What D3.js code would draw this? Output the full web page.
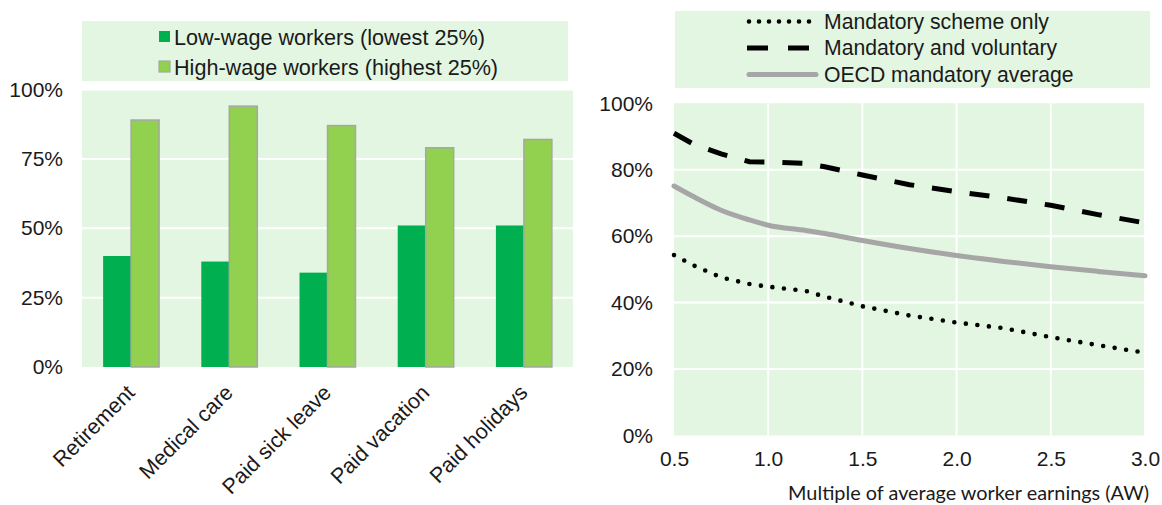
<!DOCTYPE html>
<html>
<head>
<meta charset="utf-8">
<script src="https://cdn.jsdelivr.net/npm/d3@7"></script>
<style>
  html, body { margin: 0; padding: 0; background: #ffffff; }
  svg { display: block; font-family: "Liberation Sans", Arial, sans-serif; }
</style>
</head>
<body>
<svg id="chart" width="1162" height="505"></svg>
<script>
// Left panel: share of workers with access to each benefit
const categories = ["Retirement", "Medical care", "Paid sick leave", "Paid vacation", "Paid holidays"];
const lowWage = [40, 38, 34, 51, 51];
const highWage = [89, 94, 87, 79, 82];
const barSeries = ["Low-wage workers (lowest 25%)", "High-wage workers (highest 25%)"];
const barTicks = [0, 25, 50, 75, 100];

// Right panel: replacement rate by multiple of average worker earnings
const earnings = [0.5, 0.6, 0.75, 0.9, 1.0, 1.2, 1.3, 1.5, 1.75, 2.0, 2.25, 2.5, 2.75, 3.0];
const mandatoryOnly = [54.3, 51.3, 47.6, 45.6, 44.8, 43.5, 41.8, 38.9, 36.1, 34.0, 32.3, 29.6, 27.2, 24.9];
const mandatoryVoluntary = [91.0, 87.8, 84.8, 82.4, 82.3, 81.9, 80.9, 78.4, 75.5, 73.4, 71.5, 69.3, 66.5, 64.0];
const oecdAverage = [75.1, 72.0, 67.8, 64.9, 63.3, 61.7, 60.8, 58.7, 56.3, 54.2, 52.4, 50.8, 49.4, 48.1];
const lineSeries = ["Mandatory scheme only", "Mandatory and voluntary", "OECD mandatory average"];
const lineYTicks = [0, 20, 40, 60, 80, 100];
const lineXTicks = [0.5, 1.0, 1.5, 2.0, 2.5, 3.0];
const xAxisTitle = "Multiple of average worker earnings (AW)";

const BG = "#e2f6e2";
const LOW = "#00b050";
const HIGH = "#92d050";
const GREY = "#a6a6a6";
const INK = "#1a1a1a";
const FONT = 21;

const svg = d3.select("#chart");

// ---------- Left: grouped bars ----------
const L = { left: 82, right: 573, top: 89.5, bottom: 367 };
const xL = d3.scaleBand().domain(categories).range([L.left, L.right]);
const bw = xL.bandwidth();
const xSub = d3.scaleBand().domain(barSeries).range([bw * 0.215, bw * 0.785]);
const yL = d3.scaleLinear().domain([0, 100]).range([L.bottom, L.top]);

const left = svg.append("g");
left.append("rect")
  .attr("x", L.left).attr("y", L.top)
  .attr("width", L.right - L.left).attr("height", L.bottom - L.top)
  .attr("fill", BG);

left.append("g").selectAll("line")
  .data(barTicks.filter(t => t > 0))
  .join("line")
  .attr("x1", L.left).attr("x2", L.right)
  .attr("y1", d => yL(d)).attr("y2", d => yL(d))
  .attr("stroke", "#ffffff").attr("stroke-width", 2);

const yAxisL = d3.axisLeft(yL).tickValues(barTicks).tickFormat(d => d + "%").tickSize(0).tickPadding(0);
left.append("g")
  .attr("transform", `translate(63,0)`)
  .call(yAxisL)
  .call(g => g.select(".domain").remove())
  .call(g => g.selectAll("text")
    .attr("font-size", FONT).attr("font-family", "Liberation Sans, Arial, sans-serif")
    .attr("fill", INK));

const groups = left.append("g").selectAll("g")
  .data(categories)
  .join("g")
  .attr("transform", d => `translate(${xL(d)},0)`);

groups.append("rect")
  .attr("x", xSub(barSeries[0]))
  .attr("width", xSub.bandwidth())
  .attr("y", (d, i) => yL(lowWage[i]))
  .attr("height", (d, i) => yL(0) - yL(lowWage[i]))
  .attr("fill", LOW);

groups.append("rect")
  .attr("x", xSub(barSeries[1]))
  .attr("width", xSub.bandwidth())
  .attr("y", (d, i) => yL(highWage[i]))
  .attr("height", (d, i) => yL(0) - yL(highWage[i]))
  .attr("fill", HIGH)
  .attr("stroke", GREY).attr("stroke-width", 1.5);

// rotated category labels
left.append("g").selectAll("text")
  .data(categories)
  .join("text")
  .attr("transform", d => `translate(${xL(d) + bw / 2 + 5},${L.bottom + 27}) rotate(-45)`)
  .attr("text-anchor", "end")
  .attr("font-size", 21.5)
  .attr("fill", INK)
  .text(d => d);

// legend
const legL = left.append("g");
legL.append("rect").attr("x", 82).attr("y", 21).attr("width", 486).attr("height", 60).attr("fill", BG);
const legLItems = legL.selectAll("g").data(barSeries).join("g")
  .attr("transform", (d, i) => `translate(159,${37 + i * 30})`);
legLItems.append("rect")
  .attr("x", 0).attr("y", -6).attr("width", 11).attr("height", 11)
  .attr("fill", (d, i) => i === 0 ? LOW : HIGH)
  .attr("stroke", (d, i) => i === 0 ? "none" : GREY)
  .attr("stroke-width", 1.2);
legLItems.append("text")
  .attr("x", 15).attr("dy", "0.35em")
  .attr("font-size", 21.6).attr("fill", INK)
  .text(d => d);

// ---------- Right: replacement-rate lines ----------
const R = { left: 674, right: 1145, top: 103.3, bottom: 435.5 };
const xR = d3.scaleLinear().domain([0.5, 3.0]).range([R.left, R.right]);
const yR = d3.scaleLinear().domain([0, 100]).range([R.bottom, R.top]);

const right = svg.append("g");
right.append("rect")
  .attr("x", R.left).attr("y", R.top)
  .attr("width", R.right - R.left + 1).attr("height", R.bottom - R.top)
  .attr("fill", BG);

right.append("g").selectAll("line")
  .data(lineYTicks.filter(t => t > 0 && t < 100))
  .join("line")
  .attr("x1", R.left).attr("x2", R.right)
  .attr("y1", d => yR(d)).attr("y2", d => yR(d))
  .attr("stroke", "#ffffff").attr("stroke-width", 2);

right.append("g").selectAll("line")
  .data(lineXTicks.filter(t => t > 0.5))
  .join("line")
  .attr("x1", d => xR(d)).attr("x2", d => xR(d))
  .attr("y1", R.top).attr("y2", R.bottom)
  .attr("stroke", "#ffffff").attr("stroke-width", 2);

const yAxisR = d3.axisLeft(yR).tickValues(lineYTicks).tickFormat(d => d + "%").tickSize(0).tickPadding(0);
right.append("g")
  .attr("transform", `translate(653,0)`)
  .call(yAxisR)
  .call(g => g.select(".domain").remove())
  .call(g => g.selectAll("text")
    .attr("font-size", FONT).attr("font-family", "Liberation Sans, Arial, sans-serif")
    .attr("fill", INK));

const xAxisR = d3.axisBottom(xR).tickValues(lineXTicks).tickFormat(d3.format(".1f")).tickSize(0).tickPadding(0);
right.append("g")
  .attr("transform", `translate(0,${R.bottom + 16})`)
  .call(xAxisR)
  .call(g => g.select(".domain").remove())
  .call(g => g.selectAll("text")
    .attr("font-size", FONT).attr("font-family", "Liberation Sans, Arial, sans-serif")
    .attr("fill", INK));

// axis title, sized so it spans from 788px to the right edge of the panel
const title = right.append("text")
  .attr("x", 1149).attr("y", 500)
  .attr("text-anchor", "end")
  .attr("font-family", "Lato, sans-serif")
  .attr("font-size", 18)
  .attr("fill", INK)
  .text(xAxisTitle);
const tw = title.node().getComputedTextLength();
if (tw > 0) title.attr("font-size", 18 * 361 / tw);

const lineGen = d3.line().x((d, i) => xR(earnings[i])).y(d => yR(d));
const smoothGen = d3.line().x((d, i) => xR(earnings[i])).y(d => yR(d)).curve(d3.curveMonotoneX);

const styles = [
  { color: "#000000", width: 4.6, dash: "0,11.6", legendDash: "0,10", cap: "round" },
  { color: "#000000", width: 5, dash: "20,18", legendDash: "21,20", cap: "butt" },
  { color: GREY, width: 5, dash: null, legendDash: null, cap: "round" }
];

right.append("path").datum(oecdAverage)
  .attr("d", smoothGen).attr("fill", "none")
  .attr("stroke", styles[2].color).attr("stroke-width", styles[2].width)
  .attr("stroke-linecap", styles[2].cap);
right.append("path").datum(mandatoryVoluntary)
  .attr("d", lineGen).attr("fill", "none")
  .attr("stroke", styles[1].color).attr("stroke-width", styles[1].width)
  .attr("stroke-dasharray", styles[1].dash).attr("stroke-linecap", styles[1].cap);
right.append("path").datum(mandatoryOnly)
  .attr("d", lineGen).attr("fill", "none")
  .attr("stroke", styles[0].color).attr("stroke-width", styles[0].width)
  .attr("stroke-dasharray", styles[0].dash).attr("stroke-linecap", styles[0].cap);

// legend
const legR = right.append("g");
legR.append("rect").attr("x", 675).attr("y", 11).attr("width", 475).attr("height", 77).attr("fill", BG);
const legRItems = legR.selectAll("g").data(lineSeries).join("g")
  .attr("transform", (d, i) => `translate(0,${21.5 + i * 26.5})`);
legRItems.append("line")
  .attr("x1", (d, i) => i === 0 ? 749 : (i === 1 ? 747 : 749))
  .attr("x2", (d, i) => i === 0 ? 810 : (i === 1 ? 810 : 816))
  .attr("y1", 0).attr("y2", 0)
  .attr("stroke", (d, i) => styles[i].color)
  .attr("stroke-width", (d, i) => styles[i].width)
  .attr("stroke-dasharray", (d, i) => styles[i].legendDash)
  .attr("stroke-linecap", (d, i) => styles[i].cap);
legRItems.append("text")
  .attr("x", 824).attr("dy", "0.35em")
  .attr("font-size", 21.2).attr("fill", INK)
  .text(d => d);
</script>
</body>
</html>
